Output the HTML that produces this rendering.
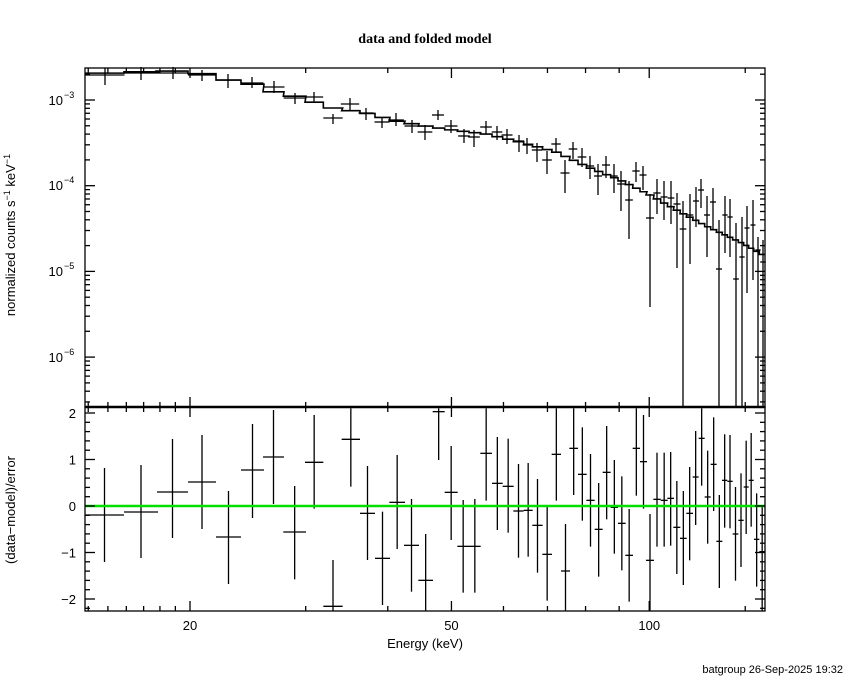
<!DOCTYPE html>
<html><head><meta charset="utf-8"><style>
body{margin:0;background:#fff;}
svg{display:block;font-family:"Liberation Sans",sans-serif;}
</style></head><body>
<svg id="s" width="850" height="680" xmlns="http://www.w3.org/2000/svg">
<rect width="850" height="680" fill="#fff"/>
<text x="425" y="43" text-anchor="middle" font-family="Liberation Serif,serif" font-size="14" font-weight="bold">data and folded model</text>
<text x="425" y="648" text-anchor="middle" font-size="13">Energy (keV)</text>
<text x="843" y="673" text-anchor="end" font-size="11">batgroup 26-Sep-2025 19:32</text>
<text transform="translate(15,235) rotate(-90)" text-anchor="middle" font-size="13">normalized counts s<tspan dy="-5" font-size="9">−1</tspan><tspan dy="5"> keV</tspan><tspan dy="-5" font-size="9">−1</tspan></text>
<text transform="translate(15,510) rotate(-90)" text-anchor="middle" font-size="13">(data−model)/error</text>
<g id="g"></g>
</svg>
<script>
var g=document.getElementById('g'),h='';
function L(x1,y1,x2,y2,c,w){h+='<line x1="'+x1+'" y1="'+y1+'" x2="'+x2+'" y2="'+y2+'" stroke="'+(c||'#000')+'" stroke-width="'+(w||1.3)+'"/>';}
function T(x,y,t,a,fs){h+='<text x="'+x+'" y="'+y+'" text-anchor="'+(a||'middle')+'" font-size="'+(fs||13)+'">'+t+'</text>';}
var X0=85,X1=765,TY0=68,TY1=407,BY1=611;
function xe(E){return 190+657*Math.log10(E/20);}
var R=[[85,124,515,468,562],[124,158,512,465,558],[157,188,492,439,538],[188,216,482,435,529],[216,241,537,491,584],[241,264,470,424,518],[263,284,457,410,504]];
var Z=[[10,78,381,243,523],[75,130,172,30,311],[130,188,604,465,620],[185,240,103,10,245],[240,285,325,183,465],[285,330,460,320,600],[328,375,292,150,432],[372,417,421,282,560],[415,459,526,387,620],[458,494,20,10,165],[494,533,262,123,405],[532,567,424,285,563],[567,602,424,282,563],[601,636,145,10,287],[636,668,235,96,375],[668,701,244,101,383],[700,731,318,177,458],[731,758,316,174,455],[757,788,361,222,503],[787,816,448,305,587],[815,843,148,10,287],[843,870,498,357,620],[868,894,130,10,270],[894,920,208,67,347],[919,944,286,147,425],[944,968,373,234,515],[968,992,202,63,343],[992,1014,307,165,446],[1014,1037,355,214,496],[1036,1059,451,312,590],[1058,1080,130,10,272],[1080,1101,170,30,311],[1098,1122,466,327,620],[1120,1142,283,143,425],[1142,1163,286,143,425],[1162,1182,280,141,422],[1180,1201,367,228,507],[1200,1220,400,258,540],[1219,1239,325,186,466],[1238,1256,216,78,360],[1256,1274,100,10,242],[1274,1292,276,137,416],[1292,1310,178,37,318],[1309,1327,409,270,549],[1326,1342,226,88,368],[1342,1358,229,90,370],[1358,1375,387,246,527],[1375,1391,346,205,486],[1391,1406,246,107,387],[1406,1421,226,84,365],[1422,1438,403,265,545],[1438,1455,440,300,620]];
Z.forEach(function(z){R.push([z[0]/3+280,z[1]/3+280,z[2]/3+405,Math.max(408,z[3]/3+405),Math.min(611,z[4]/3+405)]);});
R[R.length-1][1]=765;
var D=[[105,75,68,85],[141,73,67,80],[173,73,67,79],[202,75,70,81],[228,80,74,88],[252,83,77,88],[274,87,81,93],[295,98,93,104],[314,97,92,103],[333,118,114,124],[350,104,98,110],[366,113,108,120],[382,122,117,128],[396,120,113,126],[412,126,120,133],[425,132,125,140],[438,115,110,120],[451,126,120,133],[464,136,129,143],[474,137,130,147],[486,127,121,134],[497,132,126,140],[507,135,129,144],[519,141,135,152],[527,145,138,154],[537,150,143,162],[547,160,151,174],[556,144,138,153],[565,173,160,193],[573,149,142,159],[582,157,148,167],[590,166,156,179],[598,176,164,195],[606,165,156,178],[614,176,164,193],[621,184,171,211],[629,200,181,239],[636,171,162,182],[643,175,166,190],[650,218,194,307],[657,193,179,214],[664,197,181,220],[671,198,181,224],[677,204,193,268],[683,229,201,408],[690,215,194,264],[696,201,187,227],[701,190,179,208],[707,215,196,257],[713,202,188,229],[719,269,220,408],[725,215,196,253],[730,217,199,257],[736,279,223,408],[742,257,217,408],[747,228,206,293],[753,225,200,280],[758,250,237,408],[763,262,240,408]];
var M=[[85,74],[130,72],[175,71],[205,74],[228,80],[252,84],[274,92],[294,96],[333,108],[366,113],[396,121],[425,126],[452,130],[486,134],[520,142],[556,152],[590,168],[620,180],[650,195],[680,212],[710,228],[740,242],[765,256]];
function my(x){for(var i=0;i<M.length-1;i++){if(x<=M[i+1][0]){var t=(x-M[i][0])/(M[i+1][0]-M[i][0]);return M[i][1]+t*(M[i+1][1]-M[i][1]);}}return M[M.length-1][1];}
var p='';
R.forEach(function(b,i){var c=(b[0]+b[1])/2,y=my(c);p+=(i?'L':'M')+b[0]+','+y+'L'+b[1]+','+y;});
h+='<path d="'+p+'" fill="none" stroke="#000" stroke-width="1.6"/>';
D.forEach(function(d){var c=d[0],hw=6;
 for(var i=0;i<R.length;i++){if(c>=R[i][0]-1&&c<=R[i][1]+1){hw=(R[i][1]-R[i][0])/2;break;}}
 L(c-hw,d[1],c+hw,d[1]);L(c,d[2],c,d[3]);});
R.forEach(function(b){var c=(b[0]+b[1])/2;L(b[0],b[2],b[1],b[2]);L(c,b[3],c,b[4]);});
L(X0,506,X1,506,'#00e000',2.5);
h+='<rect x="85" y="68" width="680" height="339" fill="none" stroke="#000" stroke-width="1.3"/>';
h+='<rect x="85" y="407" width="680" height="204" fill="none" stroke="#000" stroke-width="1.3"/>';
L(85,407,765,407,'#000',2.5);
[14,15,16,17,18,19,20,30,40,50,60,70,80,90,100,140].forEach(function(E){var x=xe(E),mj=(E==20||E==50||E==100),l=mj?10:5;
 if(x<X0||x>X1)return;L(x,TY0,x,TY0+l);L(x,TY1-l,x,TY1+l);L(x,BY1,x,BY1-l);});
[[20,'20'],[50,'50'],[100,'100']].forEach(function(a){T(xe(a[0]),630,a[1]);});
for(var d=-7;d<=-2;d++){for(var k=1;k<10;k++){var y=100-85.7*(Math.log10(k)+d+3);if(y<TY0||y>TY1)continue;var l=k==1?10:5;L(X0,y,X0+l,y);L(X1,y,X1-l,y);}}
[[-3,100],[-4,185],[-5,271],[-6,357]].forEach(function(a){h+='<text x="63" y="'+(a[1]+5)+'" text-anchor="end" font-size="13">10</text><text x="64" y="'+(a[1]-2)+'" font-size="9">'+a[0].toString().replace('-','−')+'</text>';});
for(var v=-2.2;v<=2.2;v+=0.2){var y=506-46.5*v;if(y<408||y>611)continue;var mj=Math.abs(v-Math.round(v))<0.01,l=mj?10:5;L(X0,y,X0+l,y);L(X1,y,X1-l,y);}
[2,1,0,-1,-2].forEach(function(v){T(76,506-46.5*v+5,(v<0?'−':'')+Math.abs(v),'end');});
g.innerHTML=h;
</script>
</body></html>
